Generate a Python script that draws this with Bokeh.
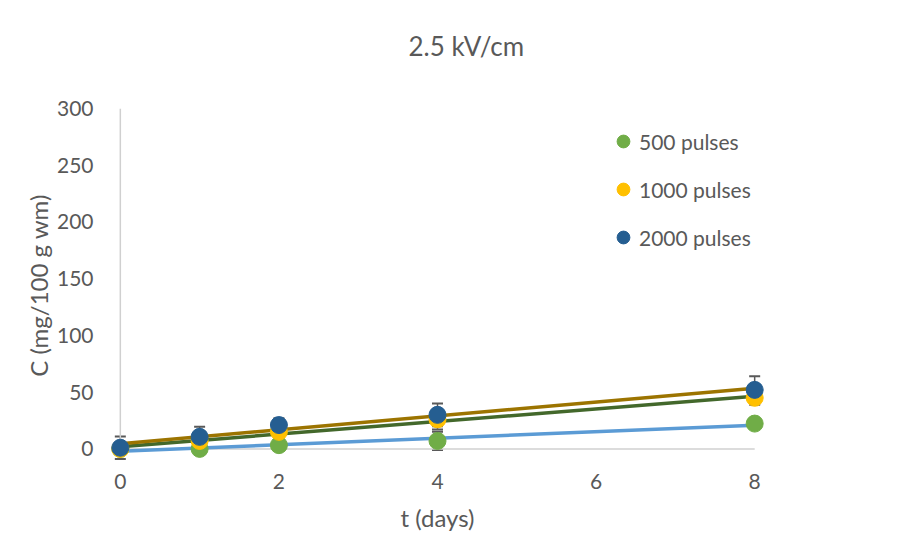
import numpy as np
from bokeh.plotting import figure
from bokeh.models import ColumnDataSource, Whisker, TeeHead, Legend, LegendItem, Range1d, FixedTicker, Title
from bokeh.embed import file_html
from bokeh.resources import INLINE

# ---- data ----
t_days = [0, 1, 2, 4, 8]
c_500 = [0.0, 0.0, 3.3, 7.0, 22.3]
c_1000 = [0.0, 7.0, 15.0, 26.0, 45.0]
c_2000 = [1.0, 10.6, 21.0, 30.0, 52.0]
err_500 = [3.0, 3.0, 4.0, 8.0, 3.0]
err_1000 = [4.0, 5.0, 6.0, 9.0, 6.0]
err_2000 = [10.0, 9.0, 6.0, 10.0, 12.0]
series_names = ["500 pulses", "1000 pulses", "2000 pulses"]
x_ticks = [0, 2, 4, 6, 8]
y_ticks = [0, 50, 100, 150, 200, 250, 300]
chart_title = "2.5 kV/cm"

marker_colors = ["#70AD47", "#FFC000", "#255E91"]
trend_colors = ["#5B9BD5", "#43682B", "#9C7400"]
text_color = "#595959"
FONT = "Lato"

p = figure(width=912, height=545, output_backend="svg", toolbar_location=None,
           x_range=Range1d(-0.25, 8.25), y_range=Range1d(-12, 300),
           min_border_left=100, min_border_right=138, min_border_top=108, min_border_bottom=83)
p.background_fill_color = "white"
p.border_fill_color = "white"
p.outline_line_color = None
p.xgrid.visible = False
p.ygrid.visible = False

# real title
p.title.text = chart_title
p.title.align = "left"
p.title.offset = 308
p.title.standoff = 0
p.title.text_font = FONT
p.title.text_font_size = "26px"
p.title.text_font_style = "normal"
p.title.text_color = text_color

# spacer between the title and the plot area
spacer = Title(text="\u00a0", text_font=FONT, text_font_size="26px", standoff=13,
               text_color=text_color)
p.add_layout(spacer, "above")

# axes
for ax in (p.xaxis, p.yaxis):
    ax.axis_line_color = None
    ax.major_tick_line_color = None
    ax.minor_tick_line_color = None
    ax.major_label_text_font = FONT
    ax.major_label_text_font_size = "21px"
    ax.major_label_text_color = text_color
    ax.axis_label_text_font = FONT
    ax.axis_label_text_font_size = "24px"
    ax.axis_label_text_font_style = "normal"
    ax.axis_label_text_color = text_color
p.xaxis.ticker = FixedTicker(ticks=x_ticks)
p.yaxis.ticker = FixedTicker(ticks=y_ticks)
p.xaxis.axis_label = "t (days)"
p.yaxis.axis_label = "C (mg/100 g wm)"
p.xaxis.major_label_standoff = 5
p.yaxis.major_label_standoff = 1
p.xaxis.axis_label_standoff = 11
p.yaxis.axis_label_standoff = 1

# axis lines at zero
p.segment(x0=[0], y0=[0], x1=[max(x_ticks)], y1=[0], line_color="#d0d0d0", line_width=1.5)
p.segment(x0=[0], y0=[0], x1=[0], y1=[max(y_ticks)], line_color="#d0d0d0", line_width=1.5)

all_vals = [c_500, c_1000, c_2000]
all_errs = [err_500, err_1000, err_2000]
t_arr = np.array(t_days, dtype=float)

# trend lines
for vals, col in zip(all_vals, trend_colors):
    slope, icpt = np.polyfit(t_arr, np.array(vals), 1)
    xs = [t_arr.min(), t_arr.max()]
    ys = [icpt + slope * xx for xx in xs]
    p.line(xs, ys, line_color=col, line_width=3.5)

# error bars
for vals, errs in zip(all_vals, all_errs):
    v = np.array(vals); e = np.array(errs)
    src = ColumnDataSource(dict(t=t_days, up=list(v + e), lo=list(v - e)))
    w = Whisker(source=src, base="t", upper="up", lower="lo", line_color="#595959", line_width=1.5,
                upper_head=TeeHead(size=11, line_color="#595959", line_width=2),
                lower_head=TeeHead(size=11, line_color="#595959", line_width=2))
    p.add_layout(w)

# markers
renderers = []
for vals, col in zip(all_vals, marker_colors):
    r = p.scatter(t_days, vals, marker="circle", size=17, fill_color=col, line_color=col)
    renderers.append(r)

legend = Legend(items=[LegendItem(label=n, renderers=[r]) for n, r in zip(series_names, renderers)],
                location=(507, 209), orientation="vertical")
legend.background_fill_alpha = 0
legend.border_line_color = None
legend.label_text_font = FONT
legend.label_text_font_size = "21px"
legend.label_text_color = text_color
legend.glyph_width = 32
legend.glyph_height = 32
legend.label_height = 30
legend.spacing = 16
legend.label_standoff = 0
legend.padding = 0
legend.margin = 0
p.add_layout(legend)

open("out.html", "w").write(file_html(p, INLINE))
